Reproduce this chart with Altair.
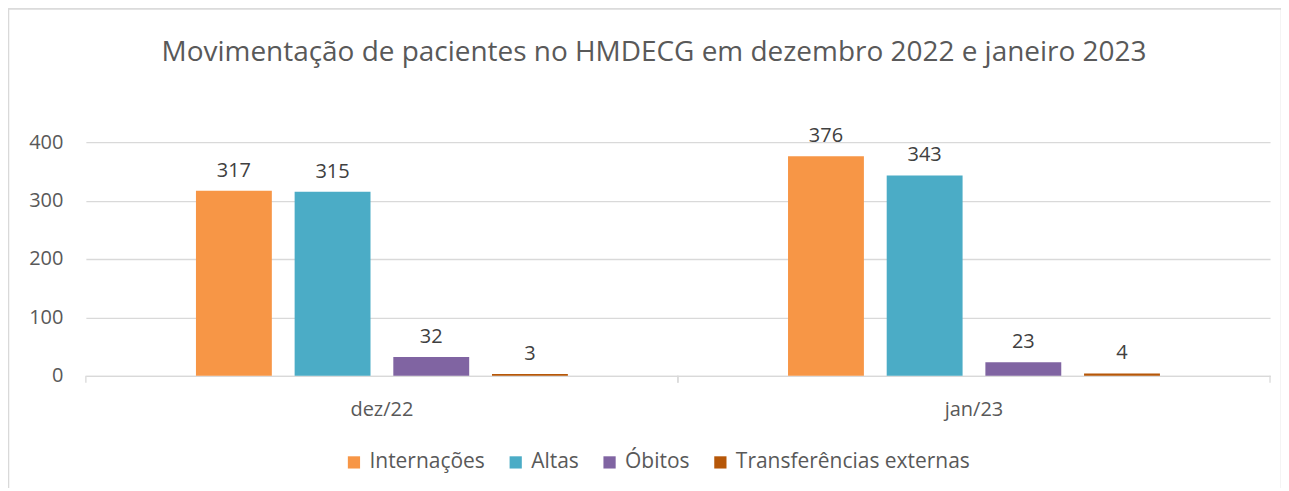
import altair as alt
import pandas as pd

months = ["dez/22", "jan/23"]
series = ["Internações", "Altas", "Óbitos", "Transferências externas"]
values = {
    "Internações": [317, 376],
    "Altas": [315, 343],
    "Óbitos": [32, 23],
    "Transferências externas": [3, 4],
}
colors = ["#F79646", "#4BACC6", "#8064A2", "#B65708"]
title_text = "Movimentação de pacientes no HMDECG em dezembro 2022 e janeiro 2023"

rows = []
for s in series:
    for m, v in zip(months, values[s]):
        rows.append({"mes": m, "serie": s, "valor": v})
df = pd.DataFrame(rows)

FONT = "Open Sans"
FS = 20
W, H = 1186, 234

x_enc = alt.X("mes:N", sort=months, title=None,
              scale=alt.Scale(paddingInner=0, paddingOuter=0),
              axis=alt.Axis(labelAngle=0, labelFontSize=FS, labelColor="#595959",
                            labelFont=FONT, labelPadding=24, ticks=False,
                            domainColor="#d9d9d9", domainWidth=1.3))
xo_enc = alt.XOffset("serie:N", sort=series,
                     scale=alt.Scale(paddingInner=0, paddingOuter=1))
y_scale = alt.Scale(domain=[0, 400])

bars = alt.Chart(df).mark_bar(width=76).encode(
    x=x_enc,
    xOffset=xo_enc,
    y=alt.Y("valor:Q", title=None, scale=y_scale,
            axis=alt.Axis(values=[0, 100, 200, 300, 400], labelFontSize=FS,
                          labelColor="#595959", labelFont=FONT, labelPadding=23,
                          domain=False, ticks=False, gridColor="#d9d9d9",
                          gridWidth=1.3)),
    color=alt.Color("serie:N", sort=series,
                    scale=alt.Scale(domain=series, range=colors),
                    legend=alt.Legend(title=None, orient="none", direction="horizontal",
                                      legendX=258, legendY=310, symbolType="square",
                                      symbolSize=150, symbolStrokeWidth=0,
                                      labelFontSize=21, labelColor="#595959",
                                      labelFont=FONT, columnPadding=20,
                                      labelLimit=400, labelOffset=5,
                                      symbolOpacity=1)),
)

labels = alt.Chart(df).mark_text(baseline="bottom", dy=-10, fontSize=FS,
                                 color="#404040", font=FONT).encode(
    x=alt.X("mes:N", sort=months),
    xOffset=xo_enc,
    y=alt.Y("valor:Q", scale=y_scale),
    text=alt.Text("valor:Q"),
)

tick_df = pd.DataFrame({"mes": months})
ticks0 = alt.Chart(tick_df).mark_rule(color="#d9d9d9", strokeWidth=1.3).encode(
    x=alt.X("mes:N", sort=months, bandPosition=0),
    y=alt.value(H), y2=alt.value(H + 7),
)
ticks1 = alt.Chart(tick_df).mark_rule(color="#d9d9d9", strokeWidth=1.3).encode(
    x=alt.X("mes:N", sort=months, bandPosition=1),
    y=alt.value(H), y2=alt.value(H + 7),
)

border = alt.Chart(tick_df).mark_rect(fill=None, stroke="#d9d9d9", strokeWidth=1.3).encode(
    x=alt.value(-77.5), x2=alt.value(1197.5), y=alt.value(-133.5), y2=alt.value(348),
)

title = alt.Chart(pd.DataFrame({"t": [title_text]})).mark_text(
    font=FONT, fontSize=28, color="#595959", align="center", baseline="alphabetic"
).encode(x=alt.value(569), y=alt.value(-81), text="t:N")

chart = alt.layer(border, title, bars, labels, ticks0, ticks1).properties(
    width=W, height=H,
    autosize=alt.AutoSizeParams(type="none"),
    padding={"left": 78, "top": 134, "right": 11, "bottom": 112},
).configure_view(stroke=None)

chart.save("out.html", embed_options={"renderer": "svg", "actions": False})
